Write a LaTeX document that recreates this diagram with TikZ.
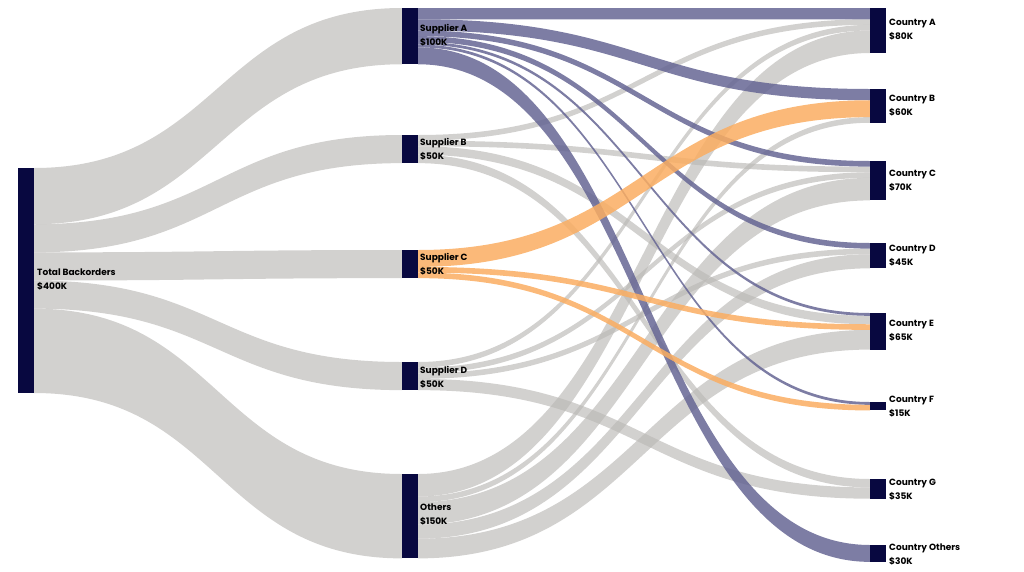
\documentclass[tikz,border=0pt]{standalone}
\usepackage{fontspec}
\setmainfont{Poppins}
\usetikzlibrary{positioning}
\definecolor{Midnight}{rgb}{.03,.03,.25}
\definecolor{Ash}{rgb}{.73,.72,.71}
\definecolor{Slate}{rgb}{.40,.40,.58}
\definecolor{Apricot}{rgb}{.98,.68,.38}
\def\sc{0.5625}
% #1 style, #2 source x, #3 source base, #4 source offset (K),
% #5 target x, #6 target base, #7 target offset (K), #8 value (K)
\newcommand\flow[8]{%
  \fill[#1] (#2,#3+#4*\sc) .. controls ({(#2+#5)/2},#3+#4*\sc) and ({(#2+#5)/2},#6+#7*\sc) .. (#5,#6+#7*\sc)
    -- (#5,#6+#7*\sc+#8*\sc) .. controls ({(#2+#5)/2},#6+#7*\sc+#8*\sc) and ({(#2+#5)/2},#3+#4*\sc+#8*\sc) .. (#2,#3+#4*\sc+#8*\sc) -- cycle;}
\begin{document}
\begin{tikzpicture}[
  x=1pt, y=-1pt,
  bar/.style={fill=Midnight, inner sep=0pt, minimum width=16pt},
  lbl/.style={anchor=west, align=left, font=\fontsize{9}{14}\selectfont\bfseries, inner sep=1pt},
  grayflow/.style={fill=Ash, opacity=.65},
  aflow/.style={fill=Slate, opacity=.85},
  cflow/.style={fill=Apricot, opacity=.85},
  ]
\useasboundingbox (0,0) rectangle (1024,571);

% flows out of the total
\flow{grayflow}{34}{168}{0}{402}{8}{0}{100}
\flow{grayflow}{34}{168}{100}{402}{135}{0}{50}
\flow{grayflow}{34}{168}{150}{402}{250}{0}{50}
\flow{grayflow}{34}{168}{200}{402}{362}{0}{50}
\flow{grayflow}{34}{168}{250}{402}{474}{0}{150}

% supplier B
\flow{grayflow}{418}{135}{0}{870}{8}{20}{10}
\flow{grayflow}{418}{135}{10}{870}{161}{10}{10}
\flow{grayflow}{418}{135}{20}{870}{313}{5}{15}
\flow{grayflow}{418}{135}{35}{870}{479}{0}{15}
% supplier D
\flow{grayflow}{418}{362}{0}{870}{8}{30}{10}
\flow{grayflow}{418}{362}{10}{870}{161}{20}{10}
\flow{grayflow}{418}{362}{20}{870}{243}{10}{10}
\flow{grayflow}{418}{362}{30}{870}{479}{15}{20}
% others
\flow{grayflow}{418}{474}{0}{870}{8}{40}{40}
\flow{grayflow}{418}{474}{40}{870}{89}{50}{10}
\flow{grayflow}{418}{474}{50}{870}{161}{30}{40}
\flow{grayflow}{418}{474}{90}{870}{243}{20}{25}
\flow{grayflow}{418}{474}{115}{870}{313}{30}{35}
% supplier A
\flow{aflow}{418}{8}{0}{870}{8}{0}{20}
\flow{aflow}{418}{8}{20}{870}{89}{0}{20}
\flow{aflow}{418}{8}{40}{870}{161}{0}{10}
\flow{aflow}{418}{8}{50}{870}{243}{0}{10}
\flow{aflow}{418}{8}{60}{870}{313}{0}{5}
\flow{aflow}{418}{8}{65}{870}{402}{0}{5}
\flow{aflow}{418}{8}{70}{870}{545}{0}{30}
% supplier C
\flow{cflow}{418}{250}{0}{870}{89}{20}{30}
\flow{cflow}{418}{250}{30}{870}{313}{20}{10}
\flow{cflow}{418}{250}{40}{870}{402}{5}{10}

% bars
\node [bar, minimum height=225pt] (total) at (26,280.5) {};
\node [bar, minimum height=56.25pt] (supA) at (410,36.1) {};
\node [bar, minimum height=28.1pt] (supB) at (410,149.1) {};
\node [bar, minimum height=28.1pt] (supC) at (410,264.1) {};
\node [bar, minimum height=28.1pt] (supD) at (410,376.1) {};
\node [bar, minimum height=84.4pt] (supO) at (410,516.2) {};
\node [bar, minimum height=45pt] (ctyA) at (878,30.5) {};
\node [bar, minimum height=33.75pt] (ctyB) at (878,105.9) {};
\node [bar, minimum height=39.4pt] (ctyC) at (878,180.7) {};
\node [bar, minimum height=25.3pt] (ctyD) at (878,255.7) {};
\node [bar, minimum height=36.6pt] (ctyE) at (878,331.3) {};
\node [bar, minimum height=8.4pt] (ctyF) at (878,406.2) {};
\node [bar, minimum height=19.7pt] (ctyG) at (878,488.8) {};
\node [bar, minimum height=16.9pt] (ctyO) at (878,553.4) {};

% labels
\node [lbl] at (36,280) {Total Backorders\\ \$400K};
\node [lbl] at (419,35) {Supplier A\\ \$100K};
\node [lbl] at (419,149) {Supplier B\\ \$50K};
\node [lbl] at (419,264) {Supplier C\\ \$50K};
\node [lbl] at (419,377) {Supplier D\\ \$50K};
\node [lbl] at (419,515) {Others\\ \$150K};
\node [lbl] at (888,30) {Country A\\ \$80K};
\node [lbl] at (888,106) {Country B\\ \$60K};
\node [lbl] at (888,181) {Country C\\ \$70K};
\node [lbl] at (888,256) {Country D\\ \$45K};
\node [lbl] at (888,331) {Country E\\ \$65K};
\node [lbl] at (888,407) {Country F\\ \$15K};
\node [lbl] at (888,490) {Country G\\ \$35K};
\node [lbl] at (888,555) {Country Others\\ \$30K};
\end{tikzpicture}
\end{document}
